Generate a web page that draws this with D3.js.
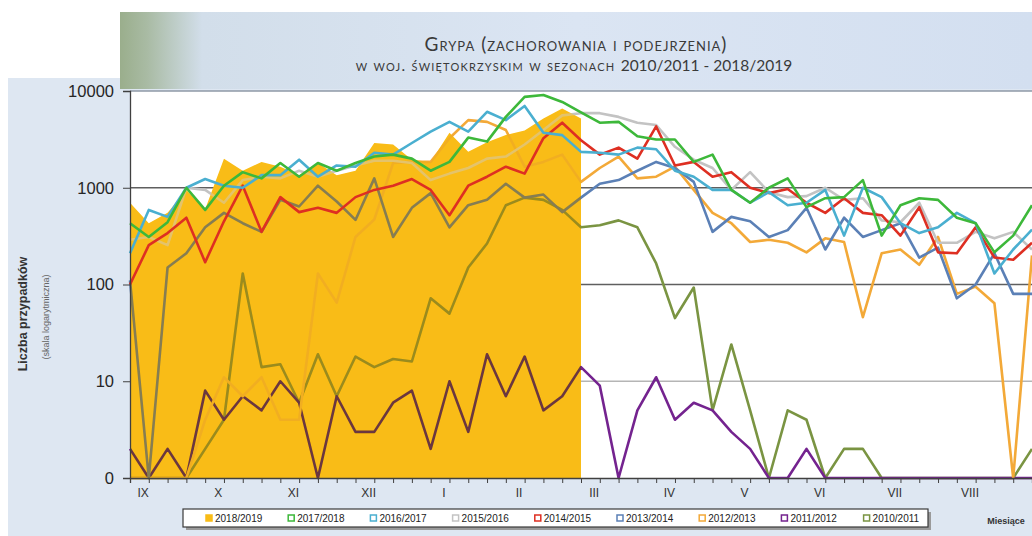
<!DOCTYPE html>
<html><head><meta charset="utf-8">
<script src="https://cdn.jsdelivr.net/npm/d3@7"></script>
<style>body{margin:0;background:#fff;overflow:hidden}svg{display:block}</style>
</head><body>
<svg id="chart" width="1032" height="536"></svg>
<script>
// ---- data ----
const seasons = ["2018/2019","2017/2018","2016/2017","2015/2016","2014/2015","2013/2014","2012/2013","2011/2012","2010/2011"];
const s2018_2019 = [700,430,550,950,600,2000,1500,1850,1650,1350,1800,1350,1500,2900,2800,1950,1850,3700,2350,2950,3500,3900,5200,6600,5200];
const s2017_2018 = [430,310,440,1000,590,1050,1450,1250,1800,1300,1800,1500,1800,2100,2200,2000,1500,1850,3300,3000,5400,8700,9100,7700,6000,4700,4800,3400,3150,3150,1850,2200,950,700,1000,1250,630,780,800,1200,320,660,780,750,490,430,215,320,660];
const s2016_2017 = [210,590,500,1000,1230,1050,1000,1350,1350,1950,1300,1700,1650,2300,2200,2900,3800,4800,3800,6100,5000,7000,3700,3500,2350,2300,2200,2600,2500,1500,1300,950,950,700,900,660,700,950,320,1000,800,430,340,390,550,430,130,230,370];
const s2015_2016 = [290,310,255,1000,950,700,1200,1300,1250,1500,1300,1500,1700,1900,1900,1800,1200,1400,1600,2000,2100,2800,3950,5600,5900,5900,5400,4700,4450,2650,1950,1600,950,1450,900,800,820,1000,750,780,460,440,700,270,270,350,300,350,230];
const s2014_2015 = [100,255,340,490,170,450,1050,350,800,560,620,550,800,950,1050,1230,950,520,1050,1300,1650,1400,3250,4700,3100,2200,2600,2000,4300,1700,1850,1300,1450,1000,880,970,700,550,780,550,520,320,630,215,210,390,190,180,270];
const s2013_2014 = [110,0,150,210,390,550,430,350,750,640,1050,720,465,1250,310,620,880,390,660,750,1100,790,850,560,790,1100,1200,1500,1850,1600,1150,350,500,450,310,365,620,230,490,310,365,430,190,240,72,100,210,80,80];
const s2012_2013 = [0,0,0,0,4,11,7,11,4,4,130,65,310,470,1800,1850,1850,3250,5000,4800,3950,1650,1850,2200,1150,1600,2100,1250,1300,1650,950,550,430,275,290,270,215,300,275,46,210,230,160,310,80,95,64,0,200];
const s2011_2012 = [2,0,2,0,8,4,7,5,10,6,0,7,3,3,6,8,2,10,3,19,7,18,5,7,14,9,0,5,11,4,6,5,3,2,0,0,2,0,0,0,0,0,0,0,0,0,0,0,0];
const s2010_2011 = [0,0,0,0,2,4,130,14,15,6,19,7,18,14,17,16,72,50,150,265,660,790,750,590,390,410,460,390,165,45,93,5,24,5,0,5,4,0,2,2,0,0,0,0,0,0,0,0,2];
const monthLabels = ["IX","X","XI","XII","I","II","III","IV","V","VI","VII","VIII"];
const monthWeek = [0.7,4.7,8.7,12.7,16.7,20.7,24.7,28.7,32.7,36.7,40.7,44.7];
const yTickValues = [1,10,100,1000,10000];
const yTickLabels = ["0","10","100","1000","10000"];
const titleText = "Grypa (zachorowania i podejrzenia)";
const subtitleText = "w woj. świętokrzyskim w sezonach ";
const subtitleYears = "2010/2011 - 2018/2019";

(function () {
// ---- styles ----
const colors = {
  "2018/2019":"#f9bc17","2017/2018":"#3db83a","2016/2017":"#4aafd0","2015/2016":"#c3c3c3",
  "2014/2015":"#de2f22","2013/2014":"#5b80b6","2012/2013":"#f3a938","2011/2012":"#74238f","2010/2011":"#7a9442"
};
const lineSeries = [
  ["2010/2011", s2010_2011],["2011/2012", s2011_2012],["2012/2013", s2012_2013],
  ["2013/2014", s2013_2014],["2015/2016", s2015_2016],
  ["2014/2015", s2014_2015],["2016/2017", s2016_2017],["2017/2018", s2017_2018]
];

const svg = d3.select("#chart");
const W = 1032, H = 536;
const pL = 130, pT = 91, pB = 478, pR = 1032;

const x = d3.scaleLinear().domain([0, 48]).range([pL, pR]);
const y = d3.scaleLog().domain([1, 10000]).range([pB, pT]);
const yv = v => y(Math.max(1, v));

// background
svg.append("rect").attr("width", W).attr("height", H).attr("fill", "#fff");
svg.append("rect").attr("x", 8).attr("y", 78).attr("width", W - 8).attr("height", H - 78).attr("fill", "#dee7f2");

// banner
const defs = svg.append("defs");
const g1 = defs.append("linearGradient").attr("id", "ban").attr("x1", 0).attr("x2", 1).attr("y1", 0).attr("y2", 0);
g1.append("stop").attr("offset", "0").attr("stop-color", "#9aae8c");
g1.append("stop").attr("offset", "0.03").attr("stop-color", "#a9bba4");
g1.append("stop").attr("offset", "0.09").attr("stop-color", "#d2deea");
g1.append("stop").attr("offset", "0.5").attr("stop-color", "#dbe5f3");
g1.append("stop").attr("offset", "1").attr("stop-color", "#d3dff0");
svg.append("rect").attr("x", 120).attr("y", 12).attr("width", W - 120).attr("height", 77).attr("fill", "url(#ban)");

svg.append("text").attr("x", 576).attr("y", 51).attr("text-anchor", "middle")
  .style("font-family", "Lato, 'Open Sans', sans-serif").style("font-size", "19px").style("letter-spacing", "1px")
  .style("font-variant", "small-caps").attr("fill", "#3a3a3a").text(titleText);
const sub = svg.append("text").attr("x", 574).attr("y", 71).attr("text-anchor", "middle")
  .style("font-family", "Lato, 'Open Sans', sans-serif").attr("fill", "#3a3a3a");
sub.append("tspan").style("font-size", "15.5px").style("letter-spacing", "1.2px").style("font-variant", "small-caps").text(subtitleText);
sub.append("tspan").style("font-size", "15.5px").text(subtitleYears);

// plot area
const plot = svg.append("g").style("isolation", "isolate");
plot.append("rect").attr("x", pL).attr("y", pT).attr("width", pR - pL).attr("height", pB - pT).attr("fill", "#fff");

// grid
plot.append("g").selectAll("line").data([10, 100, 1000, 10000]).join("line")
  .attr("x1", pL).attr("x2", pR).attr("y1", d => y(d)).attr("y2", d => y(d))
  .attr("stroke", d => d === 10 ? "#b5b5b5" : (d === 10000 ? "#8e98a6" : "#5f5f5f"))
  .attr("stroke-width", d => d === 10 ? 1.5 : 1.6);

// 2018/2019 area
const area = d3.area().x((d, i) => x(i)).y0(y(1)).y1(d => yv(d)).curve(d3.curveLinear);
plot.append("path").datum(s2018_2019).attr("d", area).attr("fill", colors["2018/2019"]);

const line = d3.line().x((d, i) => x(i)).y(d => yv(d));
const drawLine = ([name, vals]) => {
  plot.append("path").datum(vals).attr("d", line).attr("fill", "none")
    .attr("stroke", colors[name]).attr("stroke-width", 2.6).attr("stroke-linejoin", "round");
};
lineSeries.slice(0, 5).forEach(drawLine);
// colour-blended overlay of the area (older seasons appear tinted under it)
plot.append("path").datum(s2018_2019).attr("d", area).attr("fill", colors["2018/2019"])
  .attr("fill-opacity", 0.55).style("mix-blend-mode", "color");
lineSeries.slice(5).forEach(drawLine);

// axes
const yAxis = d3.axisLeft(y).tickValues(yTickValues).tickSize(7).tickFormat((d, i) => yTickLabels[i]);
const ya = svg.append("g").attr("transform", `translate(${pL},0)`).call(yAxis);
ya.select(".domain").attr("stroke", "#404040").attr("stroke-width", 1.3);
ya.selectAll(".tick line").attr("stroke", "#404040");
ya.selectAll(".tick text").attr("x", -16).attr("fill", "#262626")
  .style("font-family", "'Liberation Sans', Arial, sans-serif").style("font-size", "16.5px");

const xAxis = d3.axisBottom(x).tickValues(d3.range(0, 49)).tickSize(5).tickFormat("");
const xa = svg.append("g").attr("transform", `translate(0,${pB})`).call(xAxis);
xa.select(".domain").attr("stroke", "#404040").attr("stroke-width", 1.3);
xa.selectAll(".tick line").attr("stroke", "#404040");

svg.append("g").selectAll("text").data(monthLabels).join("text")
  .attr("x", (d, i) => x(monthWeek[i])).attr("y", 497).attr("text-anchor", "middle")
  .style("font-family", "'Liberation Sans Narrow', 'Liberation Sans', sans-serif").style("font-size", "12px")
  .attr("fill", "#333").text(d => d);

// axis titles
svg.append("text").attr("transform", "translate(27,314) rotate(-90)").attr("text-anchor", "middle")
  .style("font-family", "'Liberation Sans', Arial, sans-serif").style("font-size", "12.5px").style("font-weight", "bold")
  .attr("fill", "#333").text("Liczba przypadków");
svg.append("text").attr("transform", "translate(49,317) rotate(-90)").attr("text-anchor", "middle")
  .style("font-family", "'Liberation Sans Narrow', 'Liberation Sans', sans-serif").style("font-size", "9px")
  .attr("fill", "#666").text("(skala logarytmiczna)");
svg.append("text").attr("x", 1006).attr("y", 524).attr("text-anchor", "middle")
  .style("font-family", "'Liberation Sans Narrow', 'Liberation Sans', sans-serif").style("font-size", "9px").style("font-weight", "bold")
  .attr("fill", "#333").text("Miesiące");

// legend
const lg = svg.append("g");
lg.append("rect").attr("x", 186).attr("y", 512).attr("width", 745).attr("height", 18).attr("fill", "#9a9a9a");
lg.append("rect").attr("x", 183).attr("y", 509).attr("width", 745).attr("height", 18).attr("fill", "#fff").attr("stroke", "#3a3a3a").attr("stroke-width", 1.2);
const items = lg.selectAll("g.it").data(seasons).join("g").attr("class", "it")
  .attr("transform", (d, i) => `translate(${206 + i * 82.2},518)`);
items.append("rect").attr("x", 0).attr("y", -3).attr("width", 6).attr("height", 6)
  .attr("fill", (d, i) => i === 0 ? colors[d] : "#fff").attr("stroke", d => colors[d]).attr("stroke-width", 1.5);
items.append("text").attr("x", 9).attr("y", 3.5)
  .style("font-family", "'Liberation Sans Narrow', 'Liberation Sans', sans-serif").style("font-size", "10px")
  .attr("fill", "#222").text(d => d);
})();
</script>
</body></html>
